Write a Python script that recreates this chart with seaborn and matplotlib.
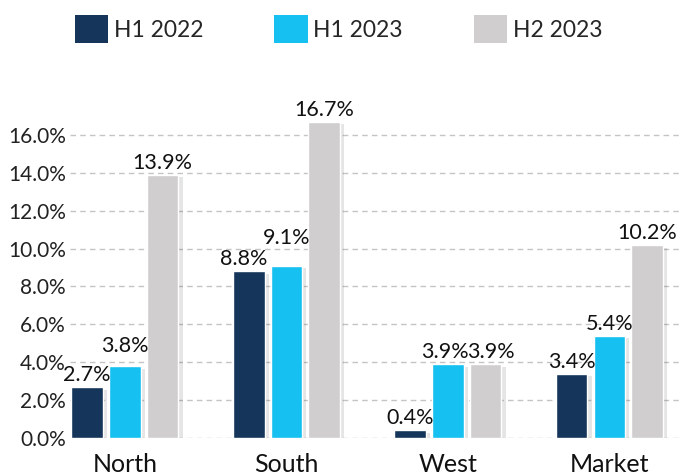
import pandas as pd
import matplotlib
matplotlib.use("Agg")
import matplotlib.pyplot as plt
import matplotlib.patheffects as pe
from matplotlib.patches import Patch
from matplotlib.ticker import FuncFormatter
import seaborn as sns

# Chart data
regions = ['North', 'South', 'West', 'Market']
periods = ['H1 2022', 'H1 2023', 'H2 2023']
h1_2022 = [2.7, 8.8, 0.4, 3.4]
h1_2023 = [3.8, 9.1, 3.9, 5.4]
h2_2023 = [13.9, 16.7, 3.9, 10.2]
yticks = [0, 2, 4, 6, 8, 10, 12, 14, 16]

colors = ['#15365A', '#16C0F0', '#D0CECF']

sns.set_theme(style="white")
plt.rcParams['font.family'] = ['Lato', 'DejaVu Sans']

df = pd.DataFrame({
    'Region': regions * 3,
    'Period': [p for p in periods for _ in regions],
    'Value': h1_2022 + h1_2023 + h2_2023,
})

fig = plt.figure(figsize=(6.82, 4.76), dpi=100)
ax = fig.add_axes([0.1026, 0.0798, 0.8974, 0.6925])

sns.barplot(data=df, x='Region', y='Value', hue='Period', order=regions,
            hue_order=periods, palette=colors, width=0.7, gap=0.16,
            saturation=1, ax=ax, legend=False, zorder=3)

shadow = [pe.SimplePatchShadow(offset=(3, -2), shadow_rgbFace='#000000', alpha=0.1),
          pe.Normal()]
for bar in ax.patches:
    bar.set_path_effects(shadow)

# label nudges (pixels) so crowded labels don't collide, like the original
nudge = {(1, 0): (0, 8), (0, 1): (-5, 0), (1, 1): (0, 16),
         (1, 2): (-3, 0), (2, 2): (5, 0)}
for s, cont in enumerate(ax.containers):
    for r, bar in enumerate(cont):
        dx, dy = nudge.get((s, r), (0, 0))
        ax.annotate(f'{cont.datavalues[r]:.1f}%',
                    (bar.get_x() + bar.get_width() / 2, bar.get_height()),
                    xytext=(dx * 0.72, (dy + 2) * 0.72), textcoords='offset points',
                    ha='center', va='bottom', fontsize=15.5, color='#111111', zorder=5)

ax.set_xlim(-0.34, 3.45)
ax.set_ylim(0, 17.4)
ax.set_yticks(yticks)
ax.yaxis.set_major_formatter(FuncFormatter(lambda v, p: f'{v:.1f}%'))
ax.grid(axis='y', linestyle=(0, (4, 3)), color='#C4C4C4', linewidth=1, zorder=0)
ax.grid(axis='x', visible=False)
for s in ax.spines.values():
    s.set_visible(False)
ax.tick_params(axis='y', labelsize=15, labelcolor='#222222', pad=3, length=0)
ax.tick_params(axis='x', labelsize=18, labelcolor='#111111', pad=11, length=0)
ax.set_xlabel('')
ax.set_ylabel('')

handles = [Patch(facecolor=c, edgecolor='none') for c in colors]
fig.legend(handles, periods, loc='center', bbox_to_anchor=(0.496, 0.939),
           ncol=3, frameon=False, fontsize=16.5, handlelength=1.48, handleheight=1.48,
           handletextpad=0.22, columnspacing=3.1, borderpad=0)

fig.savefig('out.png', dpi=100)
